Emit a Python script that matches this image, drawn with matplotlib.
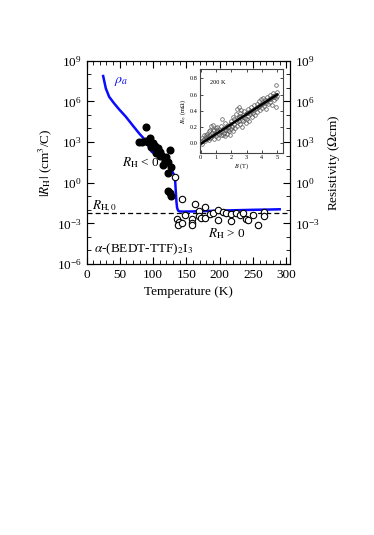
import numpy as np
import matplotlib
matplotlib.use('Agg')
import matplotlib.pyplot as plt
from matplotlib.ticker import FixedLocator, MultipleLocator, LogFormatterSciNotation, NullFormatter

plt.rcParams['font.family'] = ['Liberation Serif', 'DejaVu Serif']
plt.rcParams['mathtext.fontset'] = 'stix'
plt.rcParams['axes.unicode_minus'] = False

# --- DATA: resistivity curve rho_a (T [K], log10 rho) ---
rho_T = [25, 29, 34, 41.5, 49, 59, 69, 79, 89, 97.5, 107.5, 116.5, 126.5, 131.5,
         133.0, 134.0, 135.0, 136.0, 137.5, 140, 145, 160, 180, 200, 225, 250, 275, 290]
rho_log = [7.87, 6.96, 6.34, 5.85, 5.41, 4.87, 4.25, 3.64, 3.1, 2.3, 1.95, 1.67, 1.06, 0.57,
           0.2, -0.6, -1.4, -1.85, -2.06, -2.12, -2.13, -2.12, -2.09, -2.06, -2.03, -2.0, -1.98, -1.96]

# --- DATA: Hall coefficient R_H < 0 (filled) ---
neg_T = [79, 84, 89, 90, 93, 95, 97.5, 100, 102.5, 105, 107.5, 107.5, 110, 112.5, 115,
         117.5, 120, 122.5, 125, 127.5, 97, 103, 110, 118, 122.5, 122.5, 125, 127.5]
neg_log = [3.02, 3.02, 4.13, 3.1, 3.0, 3.27, 2.65, 2.9, 2.53, 2.16, 2.53, 2.3, 2.28, 2.04, 1.3,
           1.67, 1.92, 1.55, 2.41, 1.18, 2.85, 2.7, 2.0, 1.5, 0.69, -0.64, -0.79, -0.98]

# --- DATA: Hall coefficient R_H > 0 (open) ---
pos_T = [133.5, 143.5, 136, 139, 137.5, 144, 148.5, 158.5, 158.5, 158.5, 162.5, 169, 169,
         172.5, 178.5, 178.5, 185, 190, 197.5, 197.5, 205, 210, 217.5, 217.5, 225, 230, 235,
         240, 242.5, 250, 257.5, 266, 266]
pos_log = [0.44, -1.23, -2.7, -2.88, -3.12, -2.95, -2.41, -2.7, -2.95, -3.12, -1.57, -2.11, -2.46,
           -2.59, -1.82, -2.63, -2.34, -2.2, -2.02, -2.75, -2.14, -2.26, -2.3, -2.83, -2.22, -2.4, -2.2,
           -2.7, -2.75, -2.35, -3.12, -2.14, -2.42]

rh0_log = -2.21

# --- DATA: inset R_xy vs B at 200 K ---
b_field = [0.05, 0.1, 0.12, 0.2, 0.22, 0.3, 0.33, 0.4, 0.42, 0.5, 0.52, 0.55, 0.6, 0.63, 0.68,
           0.7, 0.75, 0.8, 0.82, 0.88, 0.9, 0.95, 1.0, 1.02, 1.08, 1.1, 1.15, 1.2, 1.25, 1.3,
           1.35, 1.4, 1.42, 1.48, 1.5, 1.55, 1.6, 1.62, 1.68, 1.7, 1.75, 1.8, 1.85, 1.9, 1.92,
           1.98, 2.0, 2.05, 2.1, 2.12, 2.18, 2.2, 2.25, 2.3, 2.35, 2.38, 2.4, 2.45, 2.48, 2.5,
           2.55, 2.58, 2.6, 2.65, 2.7, 2.72, 2.78, 2.8, 2.85, 2.9, 2.95, 3.0, 3.02, 3.08, 3.1,
           3.15, 3.2, 3.25, 3.3, 3.35, 3.4, 3.45, 3.5, 3.55, 3.6, 3.65, 3.7, 3.75, 3.8, 3.85,
           3.9, 3.95, 4.0, 4.05, 4.1, 4.15, 4.2, 4.25, 4.3, 4.35, 4.4, 4.45, 4.5, 4.55, 4.6,
           4.65, 4.7, 4.75, 4.8, 4.85, 4.9, 4.95, 4.95, 5.0, 4.98, 0.15, 0.35, 0.58, 0.78, 1.05,
           1.28, 1.58, 1.78, 2.02, 2.28, 2.52, 2.75, 3.05, 3.28, 3.52, 3.78, 4.02, 4.28, 4.52, 4.78]
r_xy = [0.02, 0.07, -0.01, 0.05, 0.1, 0.03, 0.08, 0.12, 0.06, 0.09, 0.15, 0.04, 0.11, 0.17, 0.22,
        0.08, 0.13, 0.23, 0.1, 0.16, 0.06, 0.12, 0.19, 0.09, 0.14, 0.2, 0.07, 0.12, 0.17, 0.1,
        0.22, 0.15, 0.3, 0.11, 0.19, 0.13, 0.25, 0.09, 0.17, 0.21, 0.12, 0.2, 0.15, 0.24, 0.11,
        0.18, 0.28, 0.2, 0.15, 0.33, 0.24, 0.3, 0.19, 0.36, 0.26, 0.42, 0.22, 0.31, 0.45, 0.28,
        0.38, 0.24, 0.34, 0.41, 0.29, 0.2, 0.35, 0.27, 0.4, 0.31, 0.25, 0.37, 0.3, 0.42, 0.34,
        0.28, 0.4, 0.36, 0.45, 0.33, 0.41, 0.38, 0.47, 0.35, 0.43, 0.49, 0.39, 0.45, 0.52, 0.41,
        0.47, 0.55, 0.44, 0.5, 0.56, 0.46, 0.53, 0.42, 0.5, 0.57, 0.48, 0.54, 0.6, 0.51, 0.56,
        0.47, 0.58, 0.62, 0.53, 0.6, 0.56, 0.72, 0.45, 0.63, 0.58, 0.04, 0.1, 0.07, 0.17, 0.16,
        0.14, 0.16, 0.16, 0.22, 0.27, 0.32, 0.32, 0.37, 0.39, 0.42, 0.46, 0.48, 0.52, 0.55, 0.57]
fit_b = [0, 5]
fit_r = [-0.005, 0.6]

# --- FIGURE ---
fig = plt.figure(figsize=(3.74, 5.35), dpi=100)
ax = fig.add_axes([0.2313, 0.5065, 0.545, 0.38])

ax.plot(rho_T, 10.0 ** np.array(rho_log), color='#0a0aff', lw=1.8, zorder=3)
ax.axhline(10 ** rh0_log, color='black', lw=0.9, ls=(0, (4, 2.5)), zorder=1)
ax.plot(neg_T, 10.0 ** np.array(neg_log), 'o', ms=4.8, mfc='black', mec='black', zorder=4)
ax.plot(pos_T, 10.0 ** np.array(pos_log), 'o', ms=4.6, mfc='white', mec='black', mew=0.8, zorder=4)

ax.set_yscale('log')
ax.set_xlim(0, 306)
ax.set_ylim(1e-6, 1e9)
ax.xaxis.set_major_locator(MultipleLocator(50))
ax.xaxis.set_minor_locator(MultipleLocator(10))
ax.yaxis.set_major_locator(FixedLocator([1e-6, 1e-3, 1, 1e3, 1e6, 1e9]))
ax.yaxis.set_minor_locator(FixedLocator([10.0 ** k for k in range(-6, 10) if k % 3 != 0]))
ax.yaxis.set_major_formatter(LogFormatterSciNotation())
ax.yaxis.set_minor_formatter(NullFormatter())
ax.tick_params(which='both', direction='in', top=True, right=False, labelsize=9.5)
ax.tick_params(which='major', length=5)
ax.tick_params(which='minor', length=3)
ax.set_xlabel('Temperature (K)', fontsize=9.5)
ax.set_ylabel(r'$|R_{\rm H}|$ (cm$^3$/C)', fontsize=9.5, labelpad=2)

# right axis (resistivity)
ax2 = ax.twinx()
ax2.set_yscale('log')
ax2.set_ylim(1e-6, 1e9)
ax2.yaxis.set_major_locator(FixedLocator([1e-6, 1e-3, 1, 1e3, 1e6, 1e9]))
ax2.yaxis.set_minor_locator(FixedLocator([10.0 ** k for k in range(-6, 10) if k % 3 != 0]))
ax2.yaxis.set_major_formatter(lambda v, p: '' if v < 1e-4 else LogFormatterSciNotation()(v, p))
ax2.yaxis.set_minor_formatter(NullFormatter())
ax2.tick_params(which='both', direction='in', labelsize=9.5)
ax2.tick_params(which='major', length=5)
ax2.tick_params(which='minor', length=3)
ax2.set_ylabel(r'Resistivity ($\Omega$cm)', fontsize=9.5)

# annotations
ax.text(42, 10 ** 7.45, r'$\rho_a$', color='#0a0aff', fontsize=10, va='center')
ax.text(53, 10 ** 1.5, r'$R_{\rm H}$ < 0', fontsize=9.5, va='center')
ax.text(8, 10 ** -1.75, r'$R_{\rm H,0}$', fontsize=9.5, va='center')
ax.text(183, 10 ** -3.75, r'$R_{\rm H}$ > 0', fontsize=9.5, va='center')
ax.text(12, 10 ** -4.9, r'$\alpha$-(BEDT-TTF)$_2$I$_3$', fontsize=9.5, va='center')

# --- INSET ---
axi = fig.add_axes([0.5348, 0.7135, 0.2227, 0.157])
axi.plot(b_field, r_xy, 'o', ms=2.6, mfc='none', mec='#555555', mew=0.5)
axi.plot(fit_b, fit_r, color='black', lw=1.8)
axi.set_xlim(-0.04, 5.4)
axi.set_ylim(-0.12, 0.91)
axi.xaxis.set_major_locator(MultipleLocator(1))
axi.yaxis.set_major_locator(MultipleLocator(0.2))
axi.yaxis.set_major_formatter(lambda v, p: f'{v:.1f}')
axi.tick_params(direction='in', labelsize=4.5, length=2, width=0.5, pad=1.5, top=True, right=True)
for s in axi.spines.values():
    s.set_linewidth(0.8)
    s.set_color('#444444')
axi.set_xlabel(r'$B$ (T)', fontsize=4.5, labelpad=1)
axi.set_ylabel(r'$R_{xy}$ (m$\Omega$)', fontsize=4.5, labelpad=1)
axi.text(0.6, 0.75, '200 K', fontsize=4.5, va='center')

fig.savefig('out.png', dpi=100)
